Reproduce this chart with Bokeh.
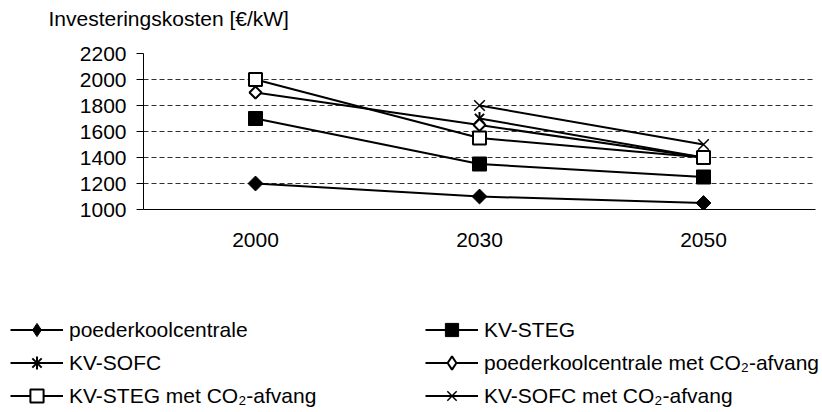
import math
from bokeh.plotting import figure
from bokeh.models import (FactorRange, Range1d, FixedTicker, Legend, LegendItem, Label)
from bokeh.embed import file_html
from bokeh.resources import INLINE

years = ["2000", "2030", "2050"]
y_ticks = [1000, 1200, 1400, 1600, 1800, 2000, 2200]
title_text = "Investeringskosten [€/kW]"

s_names = [
    "poederkoolcentrale",
    "KV-STEG",
    "KV-SOFC",
    "poederkoolcentrale met CO₂-afvang",
    "KV-STEG met CO₂-afvang",
    "KV-SOFC met CO₂-afvang",
]
poederkool = [1200, 1100, 1050]
kv_steg = [1700, 1350, 1250]
kv_sofc = [None, 1700, 1400]
poederkool_co2 = [1900, 1650, 1400]
kv_steg_co2 = [2000, 1550, 1400]
kv_sofc_co2 = [None, 1800, 1500]
series = [poederkool, kv_steg, kv_sofc, poederkool_co2, kv_steg_co2, kv_sofc_co2]

FONT = "Liberation Sans"
FS = "21px"
W = 822

# header with the axis title
hd = figure(width=W, height=40, x_range=Range1d(0, 1), y_range=Range1d(0, 1), title=None,
            output_backend="svg", toolbar_location=None, x_axis_type=None, y_axis_type=None,
            min_border_left=0, min_border_right=0, min_border_top=0, min_border_bottom=0)
hd.outline_line_color = None
hd.grid.visible = False
hd.add_layout(Label(x=48, y=22, x_units="screen", y_units="screen", text=title_text,
                    text_font=FONT, text_font_size=FS, text_color="black",
                    text_baseline="alphabetic", text_align="left"))

p = figure(width=W, height=215, x_range=FactorRange(*years, range_padding=0),
           y_range=Range1d(1000, 2200), output_backend="svg", toolbar_location=None, title=None,
           min_border_left=143, min_border_right=7, min_border_top=13, min_border_bottom=46)
p.outline_line_color = None

# axes
p.yaxis.ticker = FixedTicker(ticks=y_ticks)
p.yaxis.minor_tick_line_color = None
p.yaxis.major_tick_out = 7
p.yaxis.major_tick_in = 0
p.yaxis.major_label_standoff = 10
p.yaxis.axis_line_color = "black"
p.yaxis.major_tick_line_color = "black"
p.yaxis.major_label_text_font = FONT
p.yaxis.major_label_text_font_size = FS
p.yaxis.major_label_text_color = "black"

p.xaxis.major_tick_out = 0
p.xaxis.major_tick_in = 0
p.xaxis.major_label_standoff = 23
p.xaxis.axis_line_color = "black"
p.xaxis.major_label_text_font = FONT
p.xaxis.major_label_text_font_size = FS
p.xaxis.major_label_text_color = "black"

p.xgrid.grid_line_color = None
p.ygrid.grid_line_color = "#303030"
p.ygrid.grid_line_dash = "5 3"
p.ygrid.grid_line_width = 1


def pts(vals):
    xs = [y for y, v in zip(years, vals) if v is not None]
    ys = [v for v in vals if v is not None]
    return xs, ys

styles = [
    [dict(marker="square", angle=math.pi/4, size=10.5, fill_color="black", line_color="black", line_width=1)],
    [dict(marker="square", size=14, fill_color="black", line_color="black", line_width=1)],
    [dict(marker="x", size=13, line_color="black", line_width=2),
     dict(marker="dash", angle=math.pi/2, size=13, line_color="black", line_width=2)],
    [dict(marker="square", angle=math.pi/4, size=8.5, fill_color="white", line_color="black", line_width=2)],
    [dict(marker="square", size=13, fill_color="white", line_color="black", line_width=2)],
    [dict(marker="x", size=15, line_color="black", line_width=1.5)],
]

# lines first, then markers on top
for vals in series:
    x, y = pts(vals)
    p.line(x, y, line_color="black", line_width=2)
for vals, sts in zip(series, styles):
    x, y = pts(vals)
    for st in sts:
        p.scatter(x, y, **st)

# legend panel below the chart; its own copies of the series lie outside its
# (empty) visible range, so only the legend glyphs are seen
lg = figure(width=W, height=157, x_range=FactorRange(*years, range_padding=0),
            y_range=Range1d(0, 1), title=None,
            output_backend="svg", toolbar_location=None, x_axis_type=None, y_axis_type=None,
            min_border_left=0, min_border_right=0, min_border_top=0, min_border_bottom=0)
lg.outline_line_color = None
lg.grid.visible = False

legend_styles = [
    dict(marker="diamond", fill_color="black", line_color="black", line_width=1),
    dict(marker="square", fill_color="black", line_color="black", line_width=1),
    dict(marker="asterisk", line_color="black", line_width=2),
    dict(marker="diamond", fill_color="white", line_color="black", line_width=2),
    dict(marker="square", fill_color="white", line_color="black", line_width=2),
    dict(marker="x", line_color="black", line_width=1.5),
]
items = []
for name, vals, st in zip(s_names, series, legend_styles):
    x, y = pts(vals)
    lr = lg.line(x, y, line_color="black", line_width=2)
    sr = lg.scatter(x, y, size=13, **st)
    items.append(LegendItem(label=name, renderers=[lr, sr]))

# two columns filled column by column -> order for row-wise reading
order = [0, 2, 4, 1, 3, 5]
legend = Legend(items=[items[i] for i in order], ncols=2, location=(10, 0),
                glyph_width=53, glyph_height=33, label_height=33, label_width=356,
                label_standoff=6, spacing=0, padding=0, margin=0,
                border_line_color=None, background_fill_alpha=0,
                label_text_font=FONT, label_text_font_size=FS, label_text_color="black")
lg.add_layout(legend, "center")

open("out.html", "w").write(file_html([hd, p, lg], INLINE))
